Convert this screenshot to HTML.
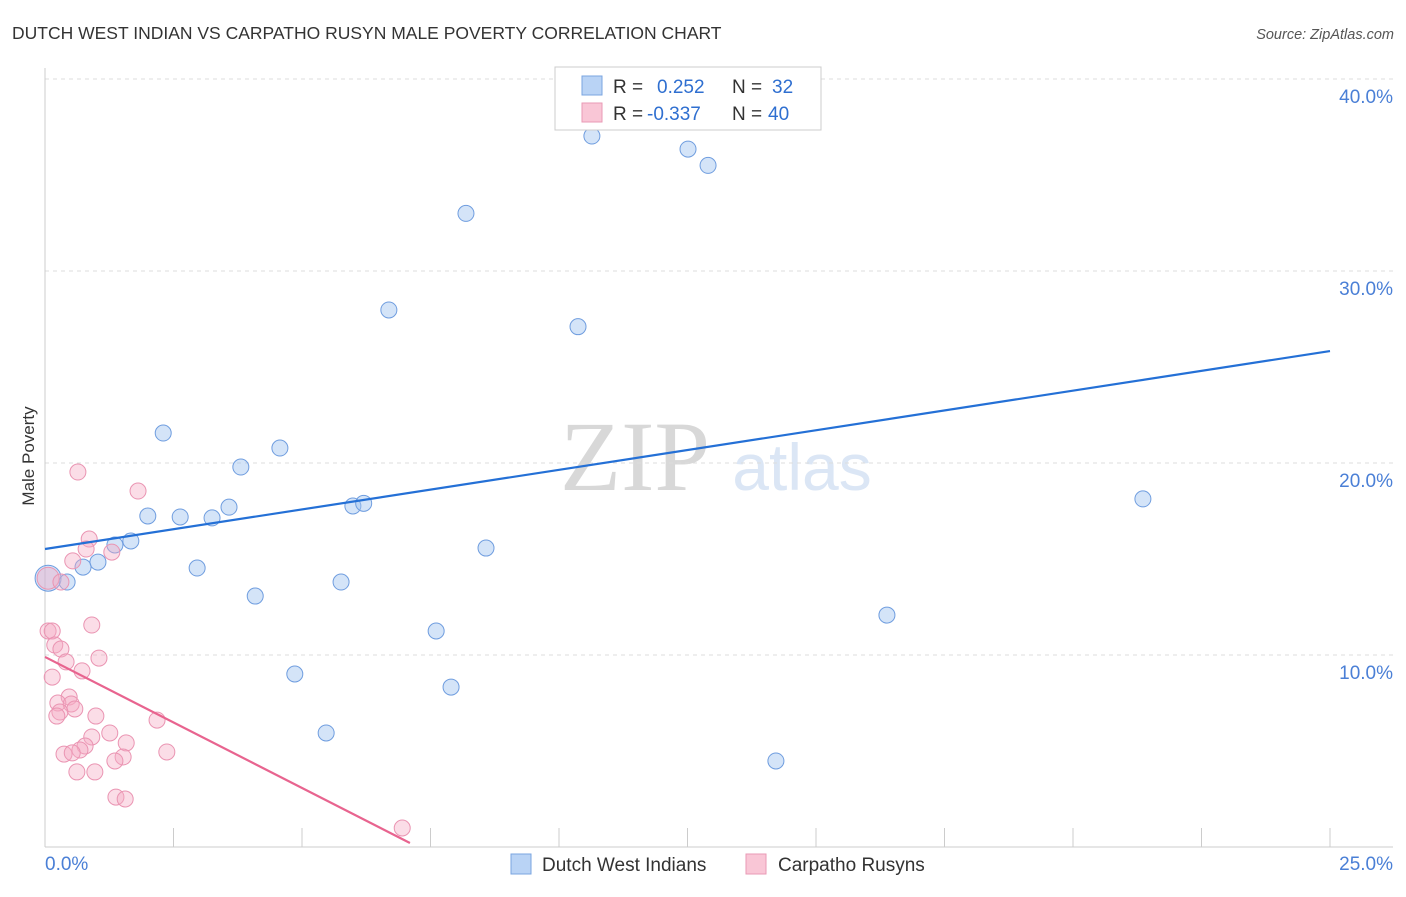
<!DOCTYPE html>
<html><head><meta charset="utf-8"><style>
body{margin:0;background:#fff;font-family:"Liberation Sans",sans-serif;}
</style></head><body>
<svg id="chart" width="1406" height="892" style="font-family:'Liberation Sans',sans-serif">
<text x="12" y="39" font-size="17.5" fill="#333">DUTCH WEST INDIAN VS CARPATHO RUSYN MALE POVERTY CORRELATION CHART</text>
<text x="1394" y="39" font-size="14.5" fill="#555" text-anchor="end" font-style="italic">Source: ZipAtlas.com</text>
<text x="635" y="490" font-size="100" fill="#d8d8d8" style="font-family:'Liberation Serif',serif" text-anchor="middle">ZIP</text>
<text x="802" y="490" font-size="66" fill="#dbe6f5" text-anchor="middle">atlas</text>
<g id="grid"></g>
<g id="axes"></g>
<g id="pts"></g>
<g id="lines"></g>
<text transform="translate(34,456) rotate(-90)" font-size="17" fill="#333" text-anchor="middle">Male Poverty</text>
<g>
<rect x="555" y="67" width="266" height="63" fill="#fff" stroke="#ccc"/>
<rect x="582" y="76" width="20" height="19" fill="#b9d3f5" stroke="#7aa5e0"/>
<rect x="582" y="103" width="20" height="19" fill="#f9c6d6" stroke="#e99ab5"/>
<text x="613" y="93" font-size="19" fill="#333">R = <tspan fill="#2f6fd0" x="657">0.252</tspan><tspan x="732">N =</tspan><tspan fill="#2f6fd0" x="772">32</tspan></text>
<text x="613" y="120" font-size="19" fill="#333">R = <tspan fill="#2f6fd0" x="647">-0.337</tspan><tspan x="732">N =</tspan><tspan fill="#2f6fd0" x="768">40</tspan></text>
</g>
<g>
<rect x="511" y="854" width="20" height="20" fill="#b9d3f5" stroke="#7aa5e0"/>
<text x="542" y="871" font-size="19" fill="#333">Dutch West Indians</text>
<rect x="746" y="854" width="20" height="20" fill="#f9c6d6" stroke="#e99ab5"/>
<text x="778" y="871" font-size="19" fill="#333">Carpatho Rusyns</text>
</g>
</svg>
<script>
const blueX=[10.64,12.51,12.9,8.19,6.69,10.37,2.30,4.57,3.81,3.58,2.0,2.63,3.25,5.99,6.2,8.58,21.36,1.36,1.67,1.03,0.74,2.96,0.06,0.43,5.76,4.09,7.61,16.38,4.86,7.9,5.47,14.22];
const blueY=[37.03,36.35,35.5,33.0,27.97,27.1,21.56,20.78,19.79,17.7,17.24,17.19,17.14,17.76,17.9,15.57,18.13,15.73,15.94,14.84,14.58,14.53,14.0,13.8,13.8,13.07,11.25,12.08,9.01,8.33,5.94,4.48];
const pinkX=[0.64,1.81,0.86,0.8,1.3,0.54,0.06,0.31,0.91,0.06,0.14,0.19,0.31,1.05,0.41,0.72,0.14,0.47,0.25,0.51,0.58,0.29,0.23,0.99,2.18,1.26,0.91,1.58,0.78,0.68,0.37,0.53,2.37,1.52,1.36,0.62,0.97,1.38,1.56,6.95];
const pinkY=[19.53,18.54,16.04,15.52,15.36,14.9,14.0,13.8,11.56,11.25,11.25,10.52,10.31,9.84,9.64,9.17,8.85,7.81,7.5,7.45,7.19,7.03,6.82,6.82,6.61,5.94,5.73,5.42,5.26,5.05,4.84,4.9,4.95,4.69,4.48,3.91,3.91,2.6,2.5,0.99];
const blueTrend=[[0,15.52],[25,25.83]];
const pinkTrend=[[0,9.9],[7.1,0.21]];
const yTicks=[10,20,30,40];
const xTickLabels=["0.0%","25.0%"];
const X=v=>45+v*51.4, Y=v=>847-v*19.2;
const NS="http://www.w3.org/2000/svg";
function mk(t,a,p){const e=document.createElementNS(NS,t);for(const k in a)e.setAttribute(k,a[k]);document.getElementById(p).appendChild(e);return e;}
yTicks.forEach(v=>{
 const l=mk('line',{x1:45,x2:1393,y1:Y(v),y2:Y(v),stroke:'#ddd','stroke-dasharray':'4,4'},'grid');
 
 
 const t=mk('text',{x:1393,y:Y(v)+24,'font-size':19,fill:'#4a7fd6','text-anchor':'end'},'grid');
 t.textContent=v.toFixed(1)+'%';
 
 
});
let a=mk('line',{x1:45,x2:45,y1:68,y2:847,stroke:'#ccc'},'axes');


a=mk('line',{x1:45,x2:1393,y1:847,y2:847,stroke:'#ccc'},'axes');


for(let i=1;i<=10;i++){const t=mk('line',{x1:X(i*2.5),x2:X(i*2.5),y1:828,y2:847,stroke:'#ccc'},'axes');
 
 }
[[0,xTickLabels[0],'start',45],[25,xTickLabels[1],'end',1393]].forEach(d=>{
 const t=mk('text',{x:d[3],y:870,'font-size':19,fill:'#4a7fd6','text-anchor':d[2]},'axes');t.textContent=d[1];
 
 });
blueX.forEach((v,i)=>{const c=mk('circle',{cx:X(v),cy:Y(blueY[i]),r:i==22?13:8,fill:'rgba(160,195,240,0.45)',stroke:'#6f9ddf','stroke-width':1},'pts');
 
 });
pinkX.forEach((v,i)=>{const c=mk('circle',{cx:X(v),cy:Y(pinkY[i]),r:i==6?11:8,fill:'rgba(245,170,195,0.4)',stroke:'#ea94b2','stroke-width':1},'pts');
 
 });
let l=mk('line',{x1:X(blueTrend[0][0]),y1:Y(blueTrend[0][1]),x2:X(blueTrend[1][0]),y2:Y(blueTrend[1][1]),stroke:'#2470d6','stroke-width':2.2},'lines');


l=mk('line',{x1:X(pinkTrend[0][0]),y1:Y(pinkTrend[0][1]),x2:X(pinkTrend[1][0]),y2:Y(pinkTrend[1][1]),stroke:'#e8648f','stroke-width':2.2},'lines');


</script>
</body></html>
